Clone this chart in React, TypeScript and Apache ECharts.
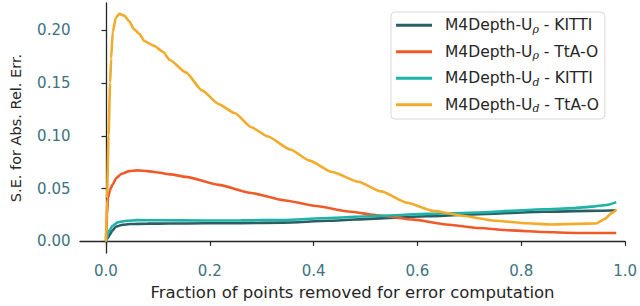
import React, { useEffect, useRef } from "react";
import * as echarts from "echarts";

const seriesNames = [
  "M4Depth-Uρ - KITTI",
  "M4Depth-Uρ - TtA-O",
  "M4Depth-Ud - KITTI",
  "M4Depth-Ud - TtA-O",
];
const seriesColors = ["#2b5e64", "#f05a28", "#1db3a7", "#f2ab2a"];

const rhoKittiX = [0, 0.003, 0.007, 0.012, 0.019, 0.03, 0.047, 0.08, 0.122, 0.19, 0.26, 0.342, 0.43, 0.53, 0.62, 0.718, 0.843, 0.93, 0.983];
const rhoKittiY = [0, 0.003, 0.006, 0.01, 0.0138, 0.0155, 0.0164, 0.0168, 0.0169, 0.0171, 0.0173, 0.0178, 0.0195, 0.0218, 0.0238, 0.0258, 0.028, 0.0289, 0.0295];

const rhoTtaX = [0, 0.002, 0.004, 0.008, 0.013, 0.02, 0.03, 0.045, 0.06, 0.08, 0.1, 0.125, 0.154, 0.217, 0.28, 0.342, 0.405, 0.467, 0.53, 0.593, 0.655, 0.718, 0.781, 0.843, 0.906, 0.983];
const rhoTtaY = [0, 0.025, 0.041, 0.049, 0.054, 0.06, 0.064, 0.0665, 0.0672, 0.0665, 0.0652, 0.0634, 0.0611, 0.0535, 0.0458, 0.039, 0.0335, 0.0283, 0.0243, 0.0206, 0.016, 0.0126, 0.0104, 0.0089, 0.008, 0.008];

const dKittiX = [0, 0.002, 0.004, 0.007, 0.012, 0.0226, 0.04, 0.06, 0.1, 0.19, 0.26, 0.342, 0.43, 0.53, 0.62, 0.718, 0.843, 0.9, 0.937, 0.965, 0.983];
const dKittiY = [0, 0.004, 0.008, 0.0104, 0.0145, 0.018, 0.0195, 0.0201, 0.02, 0.0197, 0.0199, 0.0203, 0.0222, 0.0243, 0.026, 0.0274, 0.0304, 0.0315, 0.0329, 0.0345, 0.0372];

const dTtaX = [0, 0.002, 0.005, 0.008, 0.01, 0.013, 0.019, 0.026, 0.035, 0.0445, 0.054, 0.065, 0.069, 0.0727, 0.0915, 0.11, 0.123, 0.154, 0.185, 0.217, 0.248, 0.28, 0.311, 0.355, 0.392, 0.436, 0.486, 0.53, 0.58, 0.63, 0.687, 0.749, 0.812, 0.856, 0.906, 0.944, 0.96, 0.975, 0.983];
const dTtaY = [0, 0.04, 0.1, 0.15, 0.173, 0.198, 0.2117, 0.2154, 0.2138, 0.2086, 0.201, 0.1963, 0.1932, 0.19, 0.1855, 0.1795, 0.1717, 0.16, 0.143, 0.13, 0.1215, 0.108, 0.0995, 0.087, 0.0765, 0.0657, 0.0565, 0.0473, 0.0366, 0.0289, 0.0243, 0.0196, 0.0172, 0.016, 0.0166, 0.017, 0.021, 0.027, 0.0304];

const xTicks = [0, 0.2, 0.4, 0.6, 0.8, 1.0];
const yTicks = [0, 0.05, 0.1, 0.15, 0.2];

const xTitle = "Fraction of points removed for error computation";
const yTitle = "S.E. for Abs. Rel. Err.";

const zip = (xs: number[], ys: number[]) => xs.map((x, i) => [x, ys[i]]);
const seriesData = [
  zip(rhoKittiX, rhoKittiY),
  zip(rhoTtaX, rhoTtaY),
  zip(dKittiX, dKittiY),
  zip(dTtaX, dTtaY),
];

const FONT = "DejaVu Sans";
const TICK_COLOR = "#3e7281";

export default function App() {
  const ref = useRef<HTMLDivElement>(null);
  useEffect(() => {
    if (!ref.current) return;
    const chart = echarts.init(ref.current, undefined, { renderer: "svg" });
    chart.setOption({
      animation: false,
      textStyle: { fontFamily: FONT },
      grid: { left: 72, right: 9, top: 3, bottom: 46, containLabel: false },
      legend: {
        left: 391,
        top: 12,
        orient: "vertical",
        icon: "rect",
        itemWidth: 36,
        itemHeight: 3,
        itemGap: 8,
        padding: [4, 6, 5, 5],
        borderColor: "#d8d8d8",
        borderWidth: 1,
        borderRadius: 4,
        backgroundColor: "rgba(255,255,255,0.85)",
        data: seriesNames,
        formatter: (name: string) => name.replace(/U(ρ|d) /, "U{sub|$1} "),
        textStyle: {
          fontFamily: FONT,
          fontSize: 15.5,
          color: "#262626",
          lineHeight: 18.5,
          padding: [0, 0, 0, 8],
          rich: {
            sub: {
              fontFamily: "DejaVu Serif",
              fontStyle: "italic",
              fontSize: 11,
              color: "#262626",
              verticalAlign: "bottom",
              lineHeight: 12,
            },
          },
        },
      },
      xAxis: {
        type: "value",
        min: -0.05,
        max: 1.0,
        name: xTitle,
        nameLocation: "middle",
        nameGap: 31,
        nameTextStyle: { fontFamily: FONT, fontSize: 16.5, color: "#262626" },
        splitLine: { show: false },
        axisLine: { show: true, lineStyle: { color: "#262626", width: 1.3 } },
        axisTick: { show: true, length: 4.5, customValues: xTicks, lineStyle: { color: "#262626", width: 1.2 } },
        axisLabel: {
          customValues: xTicks,
          formatter: (v: number) => v.toFixed(1),
          margin: 10,
          fontFamily: FONT,
          fontSize: 15,
          color: TICK_COLOR,
        },
      },
      yAxis: {
        type: "value",
        min: -0.011,
        max: 0.2257,
        name: yTitle,
        nameLocation: "middle",
        nameRotate: 90,
        nameGap: 57,
        nameTextStyle: { fontFamily: FONT, fontSize: 14.5, color: "#262626" },
        splitLine: { show: false },
        axisLine: { show: true, lineStyle: { color: "#262626", width: 1.3 } },
        axisTick: { show: true, length: 4.5, customValues: yTicks, lineStyle: { color: "#262626", width: 1.2 } },
        axisLabel: {
          customValues: yTicks,
          formatter: (v: number) => v.toFixed(2),
          margin: 9.5,
          fontFamily: FONT,
          fontSize: 15,
          color: TICK_COLOR,
        },
      },
      series: seriesNames.map((name, i) => ({
        name,
        type: "line",
        data: seriesData[i],
        showSymbol: false,
        symbol: "none",
        smooth: 0.2,
        smoothMonotone: "x",
        lineStyle: { color: seriesColors[i], width: 2.6 },
        itemStyle: { color: seriesColors[i] },
        z: 2 + i,
      })),
    });
    return () => chart.dispose();
  }, []);
  return (
    <div
      ref={ref}
      style={{ position: "fixed", left: 0, top: 0, width: 640, height: 306, background: "#fff" }}
    />
  );
}
